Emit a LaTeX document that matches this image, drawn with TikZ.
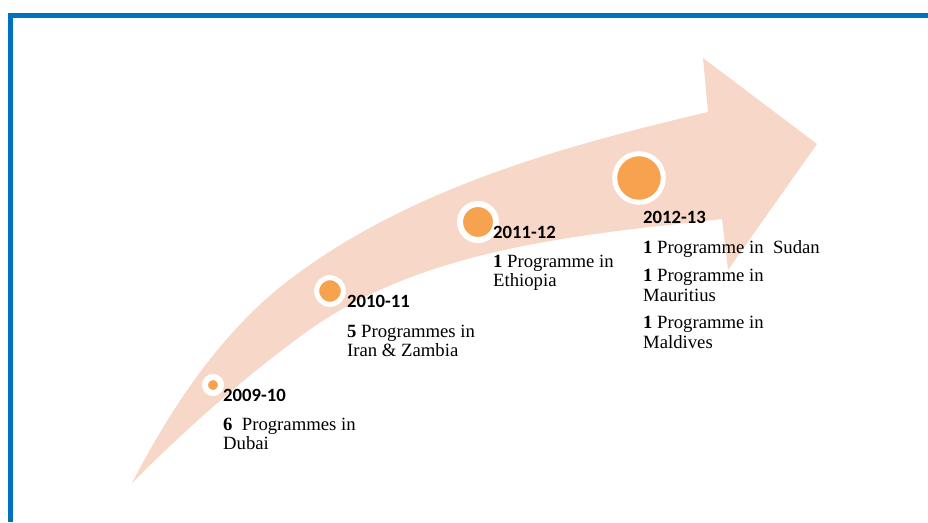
\documentclass[tikz,border=0pt]{standalone}
\usepackage{fontspec}
\setmainfont{Liberation Serif}
\newfontfamily\yearfont{Carlito}
\usepackage{tikz}

\definecolor{framebl}{RGB}{0,112,192}
\definecolor{arrowpk}{RGB}{247,215,200}
\definecolor{dotor}{RGB}{246,162,78}

% lines of one text block, first baseline on the node's base
\newcommand{\proglines}[1]{\begin{tabular}[t]{@{}l@{}}#1\end{tabular}}

\tikzset{
  year/.style={anchor=base west,inner sep=0pt,font=\yearfont\bfseries\fontsize{18.7}{20}\selectfont},
  detail/.style={anchor=base west,inner sep=0pt,font=\fontsize{18.7}{19.5}\selectfont},
  dot/.style={circle,fill=dotor,draw=white,inner sep=0pt}
}

\begin{document}
\begin{tikzpicture}[x=1pt,y=1pt,yscale=-1]
                \useasboundingbox (0,0) rectangle (928,522);
                
                %Shape: Frame
                \draw  [color=framebl ,line width=5pt ] (10.5,522) -- (10.5,15.5) -- (928,15.5) ;
                %Shape: Curved Arrow
                \fill  [arrowpk] (132,483) .. controls (172,406) and (223,329) .. (293,277) .. controls (412,188) and (563,146) .. (708,112) -- (703,58) -- (817,144) -- (728,270) -- (722,219) .. controls (579,235) and (422,248) .. (305,333) .. controls (243,378) and (186,429) .. (132,483) -- cycle ;
                
                %Shape: Circles
                \draw (213,385) node (c1) [dot ,line width=6pt ,minimum size=16pt ] {} ;
                \draw (330,291) node (c2) [dot ,line width=5pt ,minimum size=26.6pt ] {} ;
                \draw (478,222) node (c3) [dot ,line width=6pt ,minimum size=36pt ] {} ;
                \draw (639,178) node (c4) [dot ,line width=5pt ,minimum size=48.6pt ] {} ;
                
                % Text Node
                \draw (223,401) node (y1) [year] {2009-10};
                % Text Node
                \draw (223,430) node (p1) [detail] {\proglines{\textbf{6}\ \ Programmes in\\Dubai}};
                % Text Node
                \draw (347,307) node (y2) [year] {2010-11};
                % Text Node
                \draw (347,337) node (p2) [detail] {\proglines{\textbf{5} Programmes in\\Iran \& Zambia}};
                % Text Node
                \draw (493,238) node (y3) [year] {2011-12};
                % Text Node
                \draw (493,267) node (p3) [detail] {\proglines{\textbf{1} Programme in\\Ethiopia}};
                % Text Node
                \draw (643,223) node (y4) [year] {2012-13};
                % Text Node
                \draw (643,253) node (p4) [detail] {\proglines{\textbf{1} Programme in\ \ Sudan\\[9pt]\textbf{1} Programme in\\Mauritius\\[8pt]\textbf{1} Programme in\\Maldives}};
                
                \end{tikzpicture}
\end{document}
